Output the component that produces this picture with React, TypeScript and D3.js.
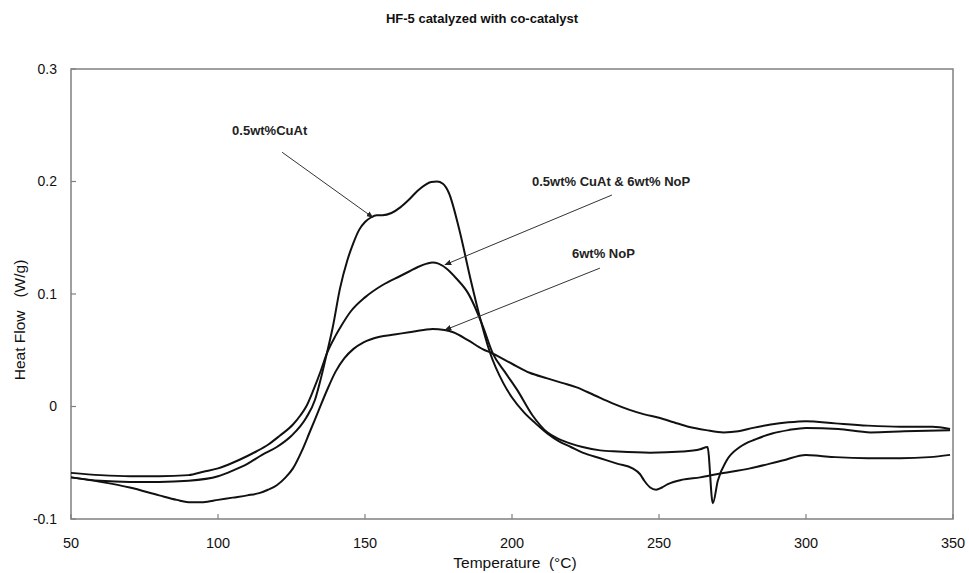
import React from "react";
import * as d3 from "d3";

const title = "HF-5 catalyzed with co-catalyst";
const xLabel = "Temperature  (°C)";
const yLabel = "Heat Flow   (W/g)";

const xTicks = [50, 100, 150, 200, 250, 300, 350];
const xTickLabels = ["50", "100", "150", "200", "250", "300", "350"];
const yTicks = [-0.1, 0, 0.1, 0.2, 0.3];
const yTickLabels = ["-0.1", "0", "0.1", "0.2", "0.3"];

// 0.5wt% CuAt
const cuAtT = [50, 60, 70, 80, 90, 100, 105, 110, 115, 120, 125, 130, 133, 135, 137, 139, 141.5, 144, 146, 148, 150, 152, 154, 156, 159, 162, 165, 168, 170.5, 172.5, 174.5, 176.5, 178.5, 182, 186, 189, 192.5, 197, 200, 204, 208, 212, 216, 220, 224, 230, 236, 241, 243.5, 245, 247, 249, 251, 253, 258, 264, 270, 281, 292, 300, 305, 310, 321, 332, 342, 349];
const cuAtV = [-0.063, -0.066, -0.067, -0.067, -0.066, -0.062, -0.057, -0.051, -0.043, -0.036, -0.026, -0.01, 0.006, 0.025, 0.047, 0.07, 0.105, 0.13, 0.145, 0.157, 0.164, 0.168, 0.17, 0.17, 0.172, 0.177, 0.184, 0.192, 0.197, 0.1995, 0.2, 0.198, 0.19, 0.158, 0.112, 0.08, 0.048, 0.021, 0.008, -0.005, -0.015, -0.024, -0.031, -0.036, -0.041, -0.046, -0.051, -0.055, -0.06, -0.066, -0.072, -0.074, -0.072, -0.069, -0.065, -0.063, -0.06, -0.055, -0.048, -0.043, -0.044, -0.045, -0.046, -0.046, -0.045, -0.043];

// 0.5wt% CuAt & 6wt% NoP
const bothT = [50, 60, 70, 80, 90, 95, 100, 105, 110, 113, 117, 121, 125.5, 128, 130, 132.5, 135, 137, 140, 142, 145, 150, 156, 162, 165, 168, 171, 173, 175, 178, 181, 185, 190, 193.5, 197.5, 201.7, 207, 212, 216, 220, 224, 230, 236, 247, 258, 264, 266.5, 268.3, 270, 273, 277.5, 283, 288.5, 294, 300, 311, 322, 333.5, 349];
const bothV = [-0.059, -0.061, -0.062, -0.062, -0.061, -0.058, -0.055, -0.05, -0.044, -0.04, -0.034, -0.026, -0.016, -0.008, 0.0, 0.015, 0.032, 0.047, 0.063, 0.072, 0.084, 0.097, 0.108, 0.116, 0.12, 0.124, 0.127, 0.128, 0.127, 0.122, 0.114, 0.101, 0.072, 0.047, 0.031, 0.015, -0.008, -0.023, -0.029, -0.033, -0.036, -0.039, -0.04, -0.041, -0.04, -0.038, -0.036, -0.086, -0.066, -0.048, -0.036, -0.029, -0.024, -0.021, -0.019, -0.02, -0.023, -0.022, -0.021];

// 6wt% NoP
const noPT = [50, 60, 70, 80, 86, 90, 95, 100, 105, 110, 114, 117, 120, 123, 125.5, 128.6, 131, 134, 137, 140, 143, 146, 149.5, 155, 160, 165, 170, 173, 177, 180, 185, 190, 193.5, 200, 206, 212, 217, 222, 228, 234, 240, 245, 250, 255, 260, 266, 272, 277, 282, 288, 294, 300, 310, 321, 332, 343, 349];
const noPV = [-0.063, -0.067, -0.072, -0.079, -0.083, -0.085, -0.085, -0.083, -0.081, -0.079, -0.077, -0.074, -0.07, -0.063, -0.055, -0.039, -0.024, -0.005, 0.014, 0.031, 0.043, 0.051, 0.057, 0.062, 0.064, 0.066, 0.068, 0.069, 0.068, 0.066, 0.059, 0.051, 0.047, 0.038, 0.03, 0.025, 0.021, 0.017, 0.01, 0.003, -0.003, -0.007, -0.01, -0.014, -0.018, -0.021, -0.023, -0.022, -0.019, -0.016, -0.014, -0.013, -0.015, -0.017, -0.018, -0.018, -0.02];

const seriesNames = ["0.5wt%CuAt", "0.5wt% CuAt & 6wt% NoP", "6wt% NoP"];
// annotation: label anchor (T, v), arrow start (T, v), arrow tip (T, v)
const labelAt = [[104.8, 0.245], [206.8, 0.2], [220.4, 0.136]];
const arrowFrom = [[121.8, 0.226], [234, 0.188], [229.9, 0.123]];
const arrowTo = [[152.7, 0.168], [177.2, 0.126], [177.2, 0.068]];

export default function App() {
  const W = 969;
  const H = 573;
  const x = d3.scaleLinear().domain([50, 350]).range([71, 953]);
  const y = d3.scaleLinear().domain([-0.1, 0.3]).range([519, 69]);
  const line = d3
    .line<[number, number]>()
    .x((d) => x(d[0]))
    .y((d) => y(d[1]))
    .curve(d3.curveMonotoneX);

  const series = [
    cuAtT.map((t, i) => [t, cuAtV[i]] as [number, number]),
    bothT.map((t, i) => [t, bothV[i]] as [number, number]),
    noPT.map((t, i) => [t, noPV[i]] as [number, number]),
  ];

  const font = "Liberation Sans, Arial, sans-serif";
  const axisColor = "#808080";

  return (
    <svg
      width={W}
      height={H}
      style={{ position: "absolute", left: 0, top: 0, background: "#fff" }}
      fontFamily={font}
    >
      <defs>
        <marker id="ah" viewBox="0 0 10 10" refX="9" refY="5" markerWidth="7" markerHeight="7" orient="auto">
          <path d="M0,1 L10,5 L0,9 z" fill="#222" />
        </marker>
      </defs>
      <rect x={0} y={0} width={W} height={H} fill="#fff" />
      <text x={482} y={23} textAnchor="middle" fontSize={13} fontWeight="bold" fill="#111">
        {title}
      </text>
      {/* plot frame */}
      <rect x={x(50)} y={y(0.3)} width={x(350) - x(50)} height={y(-0.1) - y(0.3)} fill="none" stroke={axisColor} strokeWidth={1.5} />
      {/* y ticks */}
      {yTicks.map((t, i) => (
        <g key={"y" + i}>
          <line x1={x(50)} x2={x(50) + 5} y1={y(t)} y2={y(t)} stroke={axisColor} strokeWidth={1.2} />
          <text x={57} y={y(t)} dy="0.35em" textAnchor="end" fontSize={14} fill="#111">
            {yTickLabels[i]}
          </text>
        </g>
      ))}
      {/* x ticks */}
      {xTicks.map((t, i) => (
        <g key={"x" + i}>
          <line x1={x(t)} x2={x(t)} y1={y(-0.1)} y2={y(-0.1) - 5} stroke={axisColor} strokeWidth={1.2} />
          <text x={x(t)} y={543} dy="0.35em" textAnchor="middle" fontSize={14.5} fill="#111">
            {xTickLabels[i]}
          </text>
        </g>
      ))}
      <text x={515} y={563} dy="0.35em" textAnchor="middle" fontSize={15.5} fill="#111" style={{ whiteSpace: "pre" }}>
        {xLabel}
      </text>
      <text
        transform="translate(20, 320) rotate(-90)"
        textAnchor="middle"
        dy="0.35em"
        fontSize={15.5}
        fill="#111"
        style={{ whiteSpace: "pre" }}
      >
        {yLabel}
      </text>
      {/* curves */}
      {series.map((s, i) => (
        <path key={"s" + i} d={line(s) || ""} fill="none" stroke="#111" strokeWidth={2} strokeLinejoin="round" />
      ))}
      {/* annotations */}
      {seriesNames.map((n, i) => (
        <g key={"a" + i}>
          <text x={x(labelAt[i][0])} y={y(labelAt[i][1])} dy="0.35em" fontSize={13} fontWeight="bold" fill="#222" style={{ whiteSpace: "pre" }}>
            {n}
          </text>
          <line
            x1={x(arrowFrom[i][0])}
            y1={y(arrowFrom[i][1])}
            x2={x(arrowTo[i][0])}
            y2={y(arrowTo[i][1])}
            stroke="#333"
            strokeWidth={1}
            markerEnd="url(#ah)"
          />
        </g>
      ))}
    </svg>
  );
}
